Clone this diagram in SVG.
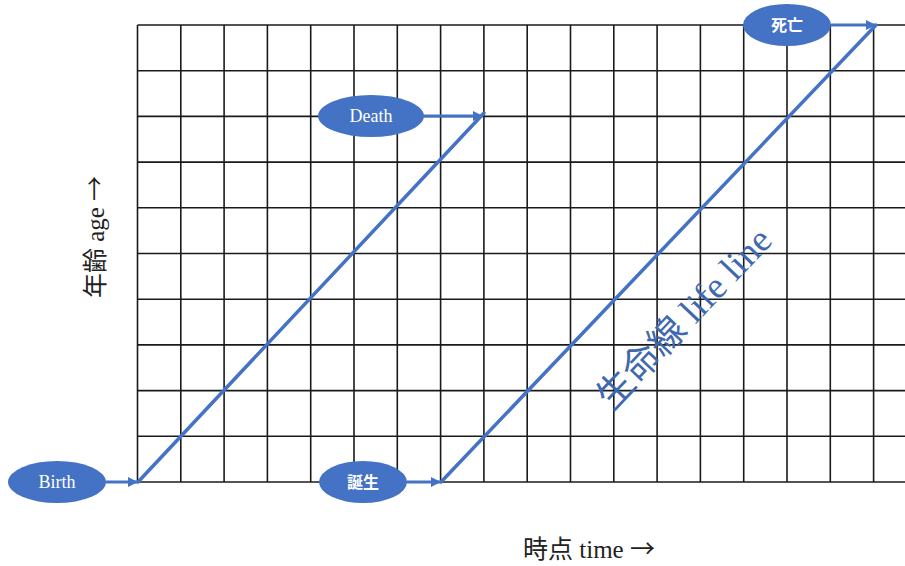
<svg xmlns="http://www.w3.org/2000/svg" width="905" height="566" viewBox="0 0 905 566">
<defs>
<style>
.grid line{stroke:#1a1a1a;stroke-width:1.6}
.life{stroke:#4472C4;stroke-width:3.5;fill:none;stroke-linecap:round}
.conn{stroke:#4472C4;stroke-width:3;fill:none}
.node ellipse{fill:#4472C4}
.en{font-family:"Liberation Serif","Noto Serif",serif;font-size:18px;fill:#fff;text-anchor:middle}
.jp{font-family:"Noto Sans CJK JP",sans-serif;font-size:16px;font-weight:bold;fill:#fff;text-anchor:middle}
.axis{font-family:"Liberation Serif","Noto Sans CJK JP",serif;font-size:25px;fill:#222}
.arr{font-family:"Noto Sans CJK JP",sans-serif}
</style>
<marker id="ah" markerWidth="10" markerHeight="10" refX="9" refY="5" orient="auto" markerUnits="userSpaceOnUse">
<path d="M0,0 L10,5 L0,10 Z" fill="#4472C4"/>
</marker>
</defs>
<rect width="905" height="566" fill="#fff"/>
<g class="grid">
<line x1="137.5" y1="25" x2="905" y2="25"/>
<line x1="137.5" y1="70.7" x2="905" y2="70.7"/>
<line x1="137.5" y1="116.4" x2="905" y2="116.4"/>
<line x1="137.5" y1="162.1" x2="905" y2="162.1"/>
<line x1="137.5" y1="207.8" x2="905" y2="207.8"/>
<line x1="137.5" y1="253.5" x2="905" y2="253.5"/>
<line x1="137.5" y1="299.2" x2="905" y2="299.2"/>
<line x1="137.5" y1="344.9" x2="905" y2="344.9"/>
<line x1="137.5" y1="390.6" x2="905" y2="390.6"/>
<line x1="137.5" y1="436.3" x2="905" y2="436.3"/>
<line x1="137.5" y1="482" x2="905" y2="482"/>
<line x1="137.5" y1="25" x2="137.5" y2="482"/>
<line x1="180.8" y1="25" x2="180.8" y2="482"/>
<line x1="224.1" y1="25" x2="224.1" y2="482"/>
<line x1="267.4" y1="25" x2="267.4" y2="482"/>
<line x1="310.7" y1="25" x2="310.7" y2="482"/>
<line x1="354" y1="25" x2="354" y2="482"/>
<line x1="397.3" y1="25" x2="397.3" y2="482"/>
<line x1="440.6" y1="25" x2="440.6" y2="482"/>
<line x1="483.9" y1="25" x2="483.9" y2="482"/>
<line x1="527.2" y1="25" x2="527.2" y2="482"/>
<line x1="570.5" y1="25" x2="570.5" y2="482"/>
<line x1="613.8" y1="25" x2="613.8" y2="482"/>
<line x1="657.1" y1="25" x2="657.1" y2="482"/>
<line x1="700.4" y1="25" x2="700.4" y2="482"/>
<line x1="743.7" y1="25" x2="743.7" y2="482"/>
<line x1="787" y1="25" x2="787" y2="482"/>
<line x1="830.3" y1="25" x2="830.3" y2="482"/>
<line x1="873.6" y1="25" x2="873.6" y2="482"/>
</g>
<g id="lifelines">
<line class="life" x1="138" y1="482" x2="484" y2="113"/>
<line class="life" x1="441" y1="482" x2="876" y2="25"/>
</g>
<g id="connectors">
<line class="conn" x1="106" y1="482" x2="137" y2="482" marker-end="url(#ah)"/>
<line class="conn" x1="407" y1="482" x2="440" y2="482" marker-end="url(#ah)"/>
<line class="conn" x1="424" y1="116" x2="482" y2="116" marker-end="url(#ah)"/>
<line class="conn" x1="831" y1="25" x2="875" y2="25" marker-end="url(#ah)"/>
</g>
<g id="birth" class="node"><ellipse cx="57" cy="482" rx="49" ry="21"/><text class="en" x="57" y="488">Birth</text></g>
<g id="tanjou" class="node"><ellipse cx="363" cy="482" rx="44" ry="21"/><text class="jp" x="363" y="488">誕生</text></g>
<g id="death" class="node"><ellipse cx="371" cy="116" rx="53" ry="21"/><text class="en" x="371" y="122">Death</text></g>
<g id="shibou" class="node"><ellipse cx="787" cy="25" rx="44" ry="21"/><text class="jp" x="787" y="31">死亡</text></g>
<text class="axis" transform="translate(104,237) rotate(-90)" text-anchor="middle">年齢 age <tspan class="arr">→</tspan></text>
<text class="axis" x="589" y="558" text-anchor="middle">時点 time <tspan class="arr">→</tspan></text>
<text transform="translate(693,327) rotate(-46.4)" text-anchor="middle" font-family="Liberation Serif,Noto Sans CJK JP,serif" font-size="37" fill="#3F69AE">生命線 life line</text>
</svg>
